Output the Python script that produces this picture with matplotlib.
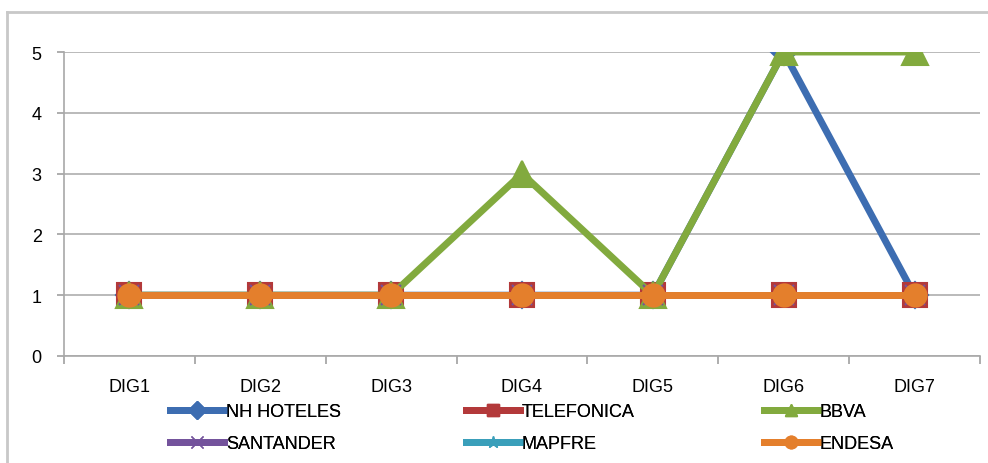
import matplotlib
matplotlib.use("Agg")
import matplotlib.pyplot as plt
from matplotlib.lines import Line2D

plt.rcParams['font.family'] = ['Liberation Sans', 'DejaVu Sans']

CATEGORIES = ["DIG1", "DIG2", "DIG3", "DIG4", "DIG5", "DIG6", "DIG7"]
NH_HOTELES = [1, 1, 1, 1, 1, 5, 1]
TELEFONICA = [1, 1, 1, 1, 1, 1, 1]
BBVA = [1, 1, 1, 3, 1, 5, 5]
SANTANDER = [1, 1, 1, 1, 1, 1, 1]
MAPFRE = [1, 1, 1, 1, 1, 1, 1]
ENDESA = [1, 1, 1, 1, 1, 1, 1]

# name, values, colour, marker, marker size
SERIES = [
    ("NH HOTELES", NH_HOTELES, "#3D6DB1", "D", 13),
    ("TELEFONICA", TELEFONICA, "#B3393A", "s", 17),
    ("BBVA", BBVA, "#82AA3E", "^", 19),
    ("SANTANDER", SANTANDER, "#74539C", "x", 14),
    ("MAPFRE", MAPFRE, "#3A9FBA", "*", 14),
    ("ENDESA", ENDESA, "#E47F2C", "o", 16),
]

fig = plt.figure(figsize=(9.88, 4.64), dpi=100)
ax = fig.add_axes([64 / 988, 1 - 357 / 464, 916 / 988, 304 / 464])

# outer chart border (cropped on right and bottom)
fig.add_artist(Line2D([7 / 988, 7 / 988], [0, 1 - 13 / 464], transform=fig.transFigure,
                      color="#c8c8c8", lw=2))
fig.add_artist(Line2D([7 / 988, 1], [1 - 13 / 464, 1 - 13 / 464], transform=fig.transFigure,
                      color="#c8c8c8", lw=2))

x = list(range(len(CATEGORIES)))
handles = []
for name, vals, col, mk, ms in SERIES:
    ax.plot(x, vals, color=col, lw=5, marker=mk, markersize=ms,
            markerfacecolor=col, markeredgecolor=col, markeredgewidth=1.5,
            solid_capstyle="butt", zorder=3)
    handles.append(Line2D([], [], color=col, lw=5, marker=mk, markersize=9,
                          markerfacecolor=col, markeredgecolor=col))

ax.set_xlim(-0.5, len(CATEGORIES) - 0.5)
ax.set_ylim(0, 5)
ax.set_yticks(range(0, 6))
ax.set_xticks(x)
ax.set_xticklabels(CATEGORIES)
ax.set_xticks([i + 0.5 for i in range(-1, len(CATEGORIES))], minor=True)
ax.tick_params(axis="x", which="major", length=0, pad=16, labelsize=13)
ax.tick_params(axis="x", which="minor", length=6, color="#a0a0a0", width=1.2)
ax.tick_params(axis="y", length=5, color="#a0a0a0", width=1.2, pad=11, labelsize=13)

ax.grid(axis="y", color="#b4b4b4", lw=1.3)
ax.set_axisbelow(True)
for side in ["top", "right"]:
    ax.spines[side].set_visible(False)
ax.spines["left"].set_color("#a8a8a8")
ax.spines["bottom"].set_color("#a8a8a8")
ax.spines["left"].set_linewidth(1.2)
ax.spines["bottom"].set_linewidth(1.2)

# legend laid out row by row like the original: one legend per column
labels = [s[0] for s in SERIES]
col_x = [170, 466, 764]
for c in range(3):
    idx = [c, c + 3]
    leg = fig.legend([handles[i] for i in idx], [labels[i] for i in idx],
                     loc="upper left", bbox_to_anchor=(col_x[c] / 988, 1 - 404 / 464),
                     frameon=False, fontsize=13, handlelength=3.0, handletextpad=0.1,
                     labelspacing=0.85, borderaxespad=0, borderpad=0)
    fig.add_artist(leg)

fig.savefig("out.png", dpi=100)
